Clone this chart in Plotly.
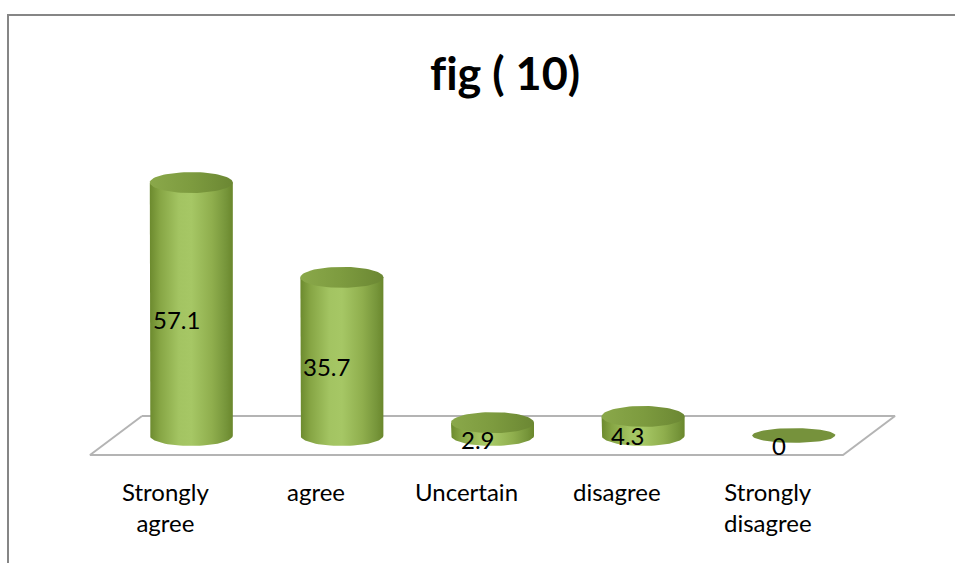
import numpy as np
import plotly.graph_objects as go

# Survey responses (percent)
categories = ["Strongly<br>agree", "agree", "Uncertain", "disagree", "Strongly<br>disagree"]
values = [57.1, 35.7, 2.9, 4.3, 0]
label_text = ["57.1", "35.7", "2.9", "4.3", "0"]
title_text = "f\u200cig ( 10)"   # ZWNJ keeps "f" and "i" as separate glyphs

W, H = 955, 563
FONT = "Lato, 'Noto Sans', sans-serif"

# pixel <-> data mapping for the plotting area (margins are zero)
PX_PER_X = 150.6          # one category slot
PX_PER_Y = 4.43           # one percent
X0_PX = 116               # left end of the floor mid-line (slot edge -0.5)
Y0_PX = 435.5             # floor mid-line (value 0)

x_range = [-0.5 - X0_PX / PX_PER_X, -0.5 + (W - X0_PX) / PX_PER_X]
y_range = [(Y0_PX - H) / PX_PER_Y, Y0_PX / PX_PER_Y]

RX = 41.5 / PX_PER_X      # cylinder radius (x data units)
RY = 10.5 / PX_PER_Y      # ellipse half-height (y data units)
DEPTH = 19.5 / PX_PER_Y   # half depth of the floor
SKEW = 26 / PX_PER_X      # horizontal shift of floor back/front edges

body_scale = [
    [0.0, "#6c8a2e"],
    [0.12, "#86a544"],
    [0.35, "#a3c462"],
    [0.5, "#a6c765"],
    [0.75, "#8fae4d"],
    [0.92, "#76953a"],
    [1.0, "#6a872c"],
]
top_scale = [
    [0.0, "#8aa84a"],
    [0.5, "#7d9b3f"],
    [1.0, "#6b8733"],
]

fig = go.Figure()

# floor of the 3D plot
n = len(categories)
fx = [-0.5 + SKEW, n - 0.5 + SKEW, n - 0.5 - SKEW, -0.5 - SKEW, -0.5 + SKEW]
fy = [DEPTH, DEPTH, -DEPTH, -DEPTH, DEPTH]
fig.add_trace(go.Scatter(x=fx, y=fy, mode="lines",
                         line=dict(color="#b4b4b4", width=2),
                         hoverinfo="skip", showlegend=False))

t_low = np.linspace(np.pi, 2 * np.pi, 40)
t_full = np.linspace(0, 2 * np.pi, 80)

for i, v in enumerate(values):
    # cylinder body: side walls plus the front half of the base ellipse
    bx = [i - RX] + list(i + RX * np.cos(t_low)) + [i + RX, i - RX]
    by = [v] + list(RY * np.sin(t_low)) + [v, v]
    if v > 0:
        fig.add_trace(go.Scatter(
            x=bx, y=by, mode="lines", fill="toself",
            line=dict(width=0, color="rgba(0,0,0,0)"),
            fillgradient=dict(type="horizontal", colorscale=body_scale),
            hoverinfo="skip", showlegend=False))
    # cylinder top
    tx = i + RX * np.cos(t_full)
    ty = v + RY * np.sin(t_full)
    if v > 0:
        fig.add_trace(go.Scatter(
            x=tx, y=ty, mode="lines", fill="toself",
            line=dict(width=0, color="rgba(0,0,0,0)"),
            fillgradient=dict(type="horizontal", colorscale=top_scale),
            hoverinfo="skip", showlegend=False))
    else:
        fig.add_trace(go.Scatter(
            x=tx, y=v + 0.7 * RY * np.sin(t_full), mode="lines", fill="toself",
            line=dict(width=0, color="rgba(0,0,0,0)"),
            fillcolor="#76923c", hoverinfo="skip", showlegend=False))

annotations = []
# value labels
for i, (v, s) in enumerate(zip(values, label_text)):
    annotations.append(dict(x=i, y=v / 2, xref="x", yref="y", text=s,
                            showarrow=False, xshift=-15, yshift=-10,
                            font=dict(family=FONT, size=24, color="#000000")))
# category labels along the front edge of the floor
for i, c in enumerate(categories):
    annotations.append(dict(x=i - SKEW, y=-DEPTH, xref="x", yref="y", text=c,
                            showarrow=False, yanchor="top", yshift=-20,
                            align="center",
                            font=dict(family=FONT, size=24, color="#000000")))
# title
annotations.append(dict(x=505 / W, y=1 - 73 / H, xref="paper", yref="paper",
                        text="<b>" + title_text + "</b>", showarrow=False,
                        yanchor="middle",
                        font=dict(family=FONT, size=45, color="#000000")))

fig.update_layout(
    width=W, height=H,
    margin=dict(l=0, r=0, t=0, b=0),
    paper_bgcolor="white", plot_bgcolor="white",
    xaxis=dict(range=x_range, visible=False, fixedrange=True),
    yaxis=dict(range=y_range, visible=False, fixedrange=True),
    annotations=annotations,
    shapes=[dict(type="rect", xref="paper", yref="paper",
                 x0=8 / W, y0=-0.05, x1=1.05, y1=1 - 15 / H,
                 line=dict(color="#868686", width=2), layer="above")],
    showlegend=False,
)

fig.write_html("out.html")
